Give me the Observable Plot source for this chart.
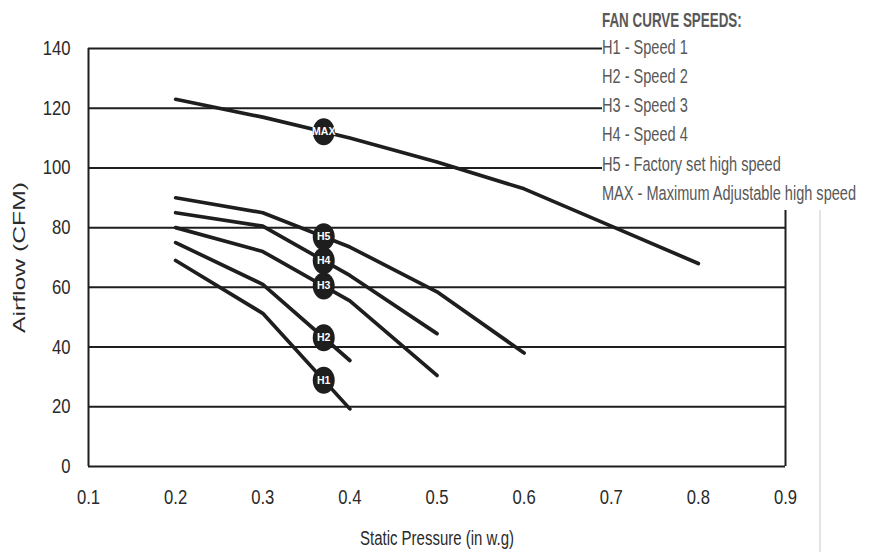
<!DOCTYPE html>
<html><head><meta charset="utf-8">
<script src="https://cdn.jsdelivr.net/npm/d3@7"></script>
<script src="https://cdn.jsdelivr.net/npm/@observablehq/plot@0.6"></script>
<style>
body{margin:0;background:#fff;}
#wrap{position:relative;width:874px;height:552px;overflow:hidden;background:#fff;}
#legend{position:absolute;left:602px;top:0;width:272px;height:210px;background:#fff;font-family:"Liberation Sans",Arial,sans-serif;color:#585858;}
#legend div{position:absolute;left:0;white-space:nowrap;font-size:20.5px;line-height:20px;transform:scaleX(0.71);transform-origin:left center;}
#legend div.t{font-weight:bold;font-size:20px;transform:scaleX(0.67);}
#vline{position:absolute;left:819px;top:210px;width:2px;height:342px;background:#e4e4e4;}
</style></head><body>
<div id="wrap"><div id="chart"></div><div id="legend"></div><div id="vline"></div></div>
<script>
// Data
const pressure = [0.2, 0.3, 0.4, 0.5, 0.6, 0.7, 0.8];
const h1 = [69, 51.3, 19.3];
const h2 = [75, 61, 35.5];
const h3 = [80, 72, 55.5, 30.5];
const h4 = [85, 80.5, 64, 44.5];
const h5 = [90, 85, 73.5, 58.5, 38];
const maxSpeed = [123, 117, 110, 102, 93, 80.5, 68];
const seriesNames = ["H1", "H2", "H3", "H4", "H5", "MAX"];
const legendTitle = "FAN CURVE SPEEDS:";
const legendItems = ["H1 - Speed 1", "H2 - Speed 2", "H3 - Speed 3", "H4 - Speed 4", "H5 - Factory set high speed", "MAX - Maximum Adjustable high speed"];
const yTicks = [0, 20, 40, 60, 80, 100, 120, 140];
const xTicks = [0.1, 0.2, 0.3, 0.4, 0.5, 0.6, 0.7, 0.8, 0.9];
const labelAt = 0.37;
const xTitle = "Static Pressure (in w.g)";
const yTitle = "Airflow (CFM)";

const seriesVals = [h1, h2, h3, h4, h5, maxSpeed];
const rows = seriesVals.flatMap((vals, i) => vals.map((v, j) => ({name: seriesNames[i], x: pressure[j], y: v})));
const labels = seriesVals.map((vals, i) => {
  const f = d3.scaleLinear().domain(pressure.slice(0, vals.length)).range(vals);
  return {name: seriesNames[i], x: labelAt, y: f(labelAt)};
});

const ellipse = {draw(ctx) {
  const rx = 11, ry = 13.5, k = 0.5523;
  ctx.moveTo(rx, 0);
  ctx.bezierCurveTo(rx, ry * k, rx * k, ry, 0, ry);
  ctx.bezierCurveTo(-rx * k, ry, -rx, ry * k, -rx, 0);
  ctx.bezierCurveTo(-rx, -ry * k, -rx * k, -ry, 0, -ry);
  ctx.bezierCurveTo(rx * k, -ry, rx, -ry * k, rx, 0);
  ctx.closePath();
}};

const ink = "#1e1e1e";
const chart = Plot.plot({
  width: 874, height: 552,
  marginLeft: 88, marginRight: 89, marginTop: 48, marginBottom: 86,
  x: {domain: [0.1, 0.9]},
  y: {domain: [0, 140]},
  style: {fontFamily: "'Liberation Sans', Arial, sans-serif", fontSize: "18.5px", color: "#2a2a2a", background: "#fff"},
  marks: [
    Plot.ruleY(yTicks, {x1: xTicks[0], x2: xTicks[xTicks.length - 1], stroke: ink, strokeWidth: 2}),
    Plot.ruleX([xTicks[0], xTicks[xTicks.length - 1]], {y1: yTicks[0], y2: yTicks[yTicks.length - 1], stroke: ink, strokeWidth: 2}),
    Plot.axisX({ticks: xTicks, tickSize: 0, tickPadding: 23, tickFormat: d3.format(".1f"), label: xTitle, labelAnchor: "center", labelArrow: "none", labelOffset: 78}),
    Plot.axisY({ticks: yTicks, tickSize: 0, tickPadding: 18, label: yTitle, labelAnchor: "center", labelArrow: "none", labelOffset: 75}),
    Plot.line(rows, {x: "x", y: "y", z: "name", stroke: ink, strokeWidth: 3.7, strokeLinecap: "round"}),
    Plot.dot(labels, {x: "x", y: "y", symbol: ellipse, fill: ink, stroke: "none"}),
    Plot.text(labels, {x: "x", y: "y", text: "name", fill: "white", fontWeight: "bold", fontSize: 10.5, fontFamily: "'Liberation Sans', sans-serif"})
  ]
});
document.getElementById("chart").appendChild(chart);

const svg = d3.select(chart);
svg.selectAll('g[aria-label="x-axis tick label"] text, g[aria-label="y-axis tick label"] text')
  .attr("transform", function() { return (this.getAttribute("transform") || "") + " scale(0.9,1.1)"; });
svg.selectAll('g[aria-label="x-axis label"] text')
  .attr("font-size", 20).attr("textLength", 154).attr("lengthAdjust", "spacingAndGlyphs");
svg.selectAll('g[aria-label="y-axis label"] text')
  .attr("font-size", 16).attr("textLength", 151).attr("lengthAdjust", "spacingAndGlyphs");

const legend = document.getElementById("legend");
const t = document.createElement("div");
t.className = "t"; t.textContent = legendTitle; t.style.top = "10px";
legend.appendChild(t);
const rowTops = [37, 66, 95, 124, 154, 183];
legendItems.forEach((s, i) => {
  const d = document.createElement("div");
  d.textContent = s; d.style.top = rowTops[i] + "px";
  legend.appendChild(d);
});
</script>
</body></html>
